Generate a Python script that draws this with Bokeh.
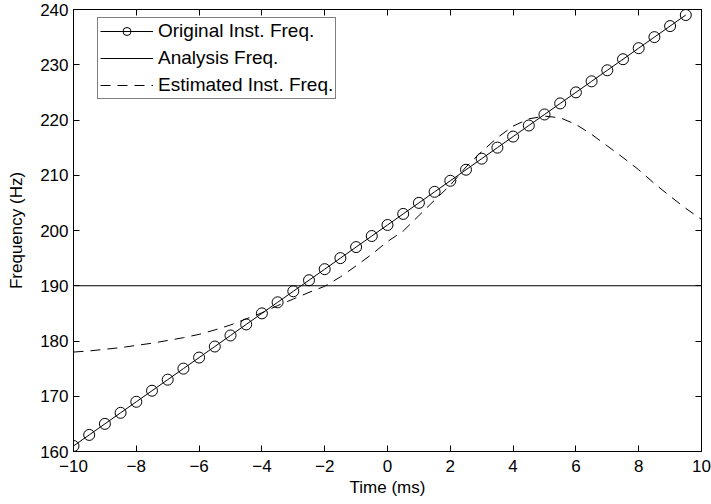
from bokeh.plotting import figure
from bokeh.models import Range1d, FixedTicker, LinearAxis, Legend, LegendItem
from bokeh.embed import file_html
from bokeh.resources import INLINE

# ---- data ----
time_ms = [-10.0, -9.5, -9.0, -8.5, -8.0, -7.5, -7.0, -6.5, -6.0, -5.5,
           -5.0, -4.5, -4.0, -3.5, -3.0, -2.5, -2.0, -1.5, -1.0, -0.5,
           0.0, 0.5, 1.0, 1.5, 2.0, 2.5, 3.0, 3.5, 4.0, 4.5,
           5.0, 5.5, 6.0, 6.5, 7.0, 7.5, 8.0, 8.5, 9.0, 9.5]
orig_freq = [161, 163, 165, 167, 169, 171, 173, 175, 177, 179,
             181, 183, 185, 187, 189, 191, 193, 195, 197, 199,
             201, 203, 205, 207, 209, 211, 213, 215, 217, 219,
             221, 223, 225, 227, 229, 231, 233, 235, 237, 239]

analysis_time = [-10.0, 10.0]
analysis_freq = [190, 190]

est_time = [-10.0, -9.5, -9.0, -8.5, -8.0, -7.5, -7.0, -6.5, -6.0, -5.5,
            -5.0, -4.5, -4.0, -3.5, -3.0, -2.5, -2.0, -1.5, -1.0, -0.5,
            0.0, 0.5, 1.0, 1.5, 2.0, 2.5, 3.0, 3.5, 4.0, 4.5,
            5.0, 5.5, 6.0, 6.5, 7.0, 7.5, 8.0, 8.5, 9.0, 9.5, 10.0]
est_freq = [178.0, 178.2, 178.5, 178.8, 179.2, 179.6, 180.1, 180.6, 181.2, 182.0,
            182.9, 184.0, 185.1, 186.4, 187.6, 188.8, 189.9, 191.6, 193.6, 195.7,
            198.0, 199.9, 202.7, 205.5, 208.2, 211.5, 214.3, 216.8, 218.9, 220.2,
            220.7, 220.4, 219.2, 217.4, 215.3, 213.2, 211.0, 208.5, 206.2, 204.0, 202.0]

x_ticks = [-10, -8, -6, -4, -2, 0, 2, 4, 6, 8, 10]
x_tick_labels = ["\u221210", "\u22128", "\u22126", "\u22124", "\u22122", "0", "2", "4", "6", "8", "10"]
y_ticks = [160, 170, 180, 190, 200, 210, 220, 230, 240]
y_tick_labels = ["160", "170", "180", "190", "200", "210", "220", "230", "240"]

FONT = "Liberation Sans"

p = figure(width=711, height=504, output_backend="svg", toolbar_location=None,
           x_range=Range1d(-10, 10), y_range=Range1d(160, 240),
           min_border_left=73, min_border_right=10, min_border_top=9, min_border_bottom=53)
p.background_fill_color = "white"
p.border_fill_color = "white"
p.grid.visible = False
p.outline_line_color = "black"
p.outline_line_width = 1

def style_axis(ax, ticks, labels=None, show=True):
    ax.ticker = FixedTicker(ticks=ticks)
    ax.minor_tick_line_color = None
    ax.major_tick_in = 6
    ax.major_tick_out = 0
    ax.major_tick_line_color = "black"
    ax.axis_line_color = "black"
    ax.major_label_text_font = FONT
    if show:
        ax.major_label_text_color = "black"
        ax.major_label_text_font_size = "17px"
        if labels is not None:
            ax.major_label_overrides = {t: l for t, l in zip(ticks, labels)}
    else:
        ax.major_label_text_color = None
        ax.major_label_text_font_size = "1px"
        ax.major_label_standoff = 0

xa = p.xaxis[0]
style_axis(xa, x_ticks, x_tick_labels)
xa.major_label_standoff = 8
xa.axis_label = "Time (ms)"
xa.axis_label_text_font = FONT
xa.axis_label_text_font_size = "17px"
xa.axis_label_text_font_style = "normal"
xa.axis_label_text_color = "black"
xa.axis_label_standoff = 3

ya = p.yaxis[0]
style_axis(ya, y_ticks, y_tick_labels)
ya.major_label_standoff = 5
ya.axis_label = "Frequency (Hz)"
ya.axis_label_text_font = FONT
ya.axis_label_text_font_size = "17px"
ya.axis_label_text_font_style = "normal"
ya.axis_label_text_color = "black"
ya.axis_label_standoff = 11

top = LinearAxis()
style_axis(top, x_ticks, show=False)
p.add_layout(top, "above")
right = LinearAxis()
style_axis(right, y_ticks, show=False)
p.add_layout(right, "right")

r_orig_line = p.line(time_ms, orig_freq, line_color="black", line_width=1)
r_orig_pts = p.scatter(time_ms, orig_freq, marker="circle", size=11,
                       fill_color=None, line_color="black", line_width=1)
r_an = p.line(analysis_time, analysis_freq, line_color="black", line_width=1)
r_est = p.line(est_time, est_freq, line_color="black", line_width=1, line_dash="10 7")

legend = Legend(items=[
    LegendItem(label="Original Inst. Freq.", renderers=[r_orig_line, r_orig_pts]),
    LegendItem(label="Analysis Freq.", renderers=[r_an]),
    LegendItem(label="Estimated Inst. Freq.", renderers=[r_est]),
], location=(24, 352))
legend.label_text_font = FONT
legend.label_text_font_size = "19px"
legend.label_text_color = "black"
legend.glyph_width = 53
legend.glyph_height = 20
legend.label_height = 20
legend.label_standoff = 5
legend.spacing = 5
legend.padding = 2
legend.margin = 0
legend.border_line_color = "black"
legend.border_line_width = 1
legend.background_fill_color = "white"
legend.background_fill_alpha = 1
p.add_layout(legend, "center")

open("out.html", "w").write(file_html(p, INLINE))
